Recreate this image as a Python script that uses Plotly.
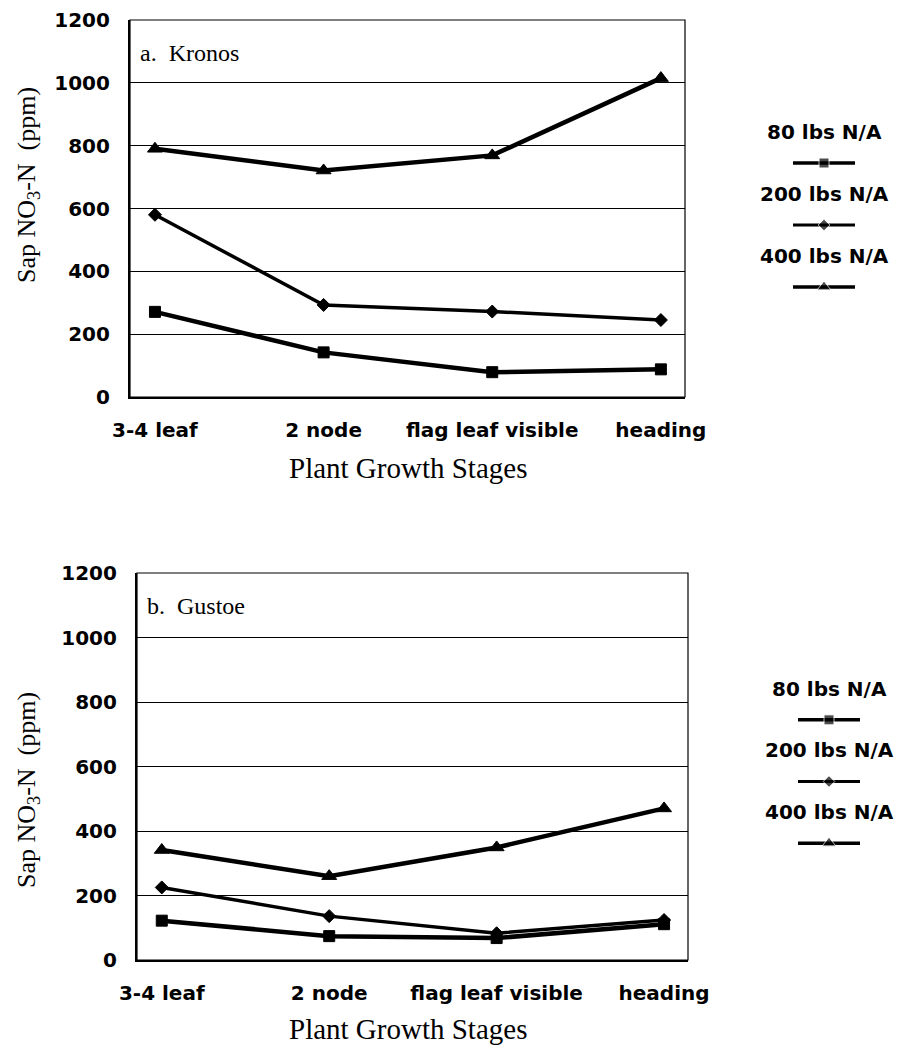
import plotly.graph_objects as go

stages = ["3-4 leaf", "2 node", "flag leaf visible", "heading"]
series_names = ["80 lbs N/A", "200 lbs N/A", "400 lbs N/A"]

kronos_80 = [271, 142, 79, 88]
kronos_200 = [580, 293, 272, 245]
kronos_400 = [790, 721, 769, 1015]

gustoe_80 = [122, 74, 68, 111]
gustoe_200 = [225, 136, 83, 124]
gustoe_400 = [341, 260, 349, 470]

panel_titles = ["a.  Kronos", "b.  Gustoe"]
y_ticks = [0, 200, 400, 600, 800, 1000, 1200]

W, H = 898, 1046
def px(x): return x / W
def py(y): return (H - y) / H

symbols = ["square", "diamond", "triangle-up"]
msizes = [11, 10, 13]
lwidths = [4.5, 3.5, 4.5]

fig = go.Figure()

panels = [
    dict(data=[kronos_80, kronos_200, kronos_400], x=(130, 685), y=(20, 397), xa="x", ya="y",
         leg_x=(793, 855), leg_y=(132, 318), legxa="x3", legya="y3", ytitle_y=185, xtitle_y=468),
    dict(data=[gustoe_80, gustoe_200, gustoe_400], x=(137, 688), y=(573, 960), xa="x2", ya="y2",
         leg_x=(798, 860), leg_y=(689, 874), legxa="x4", legya="y4", ytitle_y=790, xtitle_y=1029),
]

sans = "DejaVu Sans, Arial"
serif = "Liberation Serif, Times New Roman"
tick_font = dict(family=sans, size=20, color="black", weight="bold")

for pi, p in enumerate(panels):
    for si, name in enumerate(series_names):
        fig.add_trace(go.Scatter(
            x=stages, y=p["data"][si], mode="lines+markers", name=name,
            xaxis=p["xa"], yaxis=p["ya"], showlegend=False,
            line=dict(color="black", width=lwidths[si]),
            marker=dict(symbol=symbols[si], size=msizes[si], color="black",
                        line=dict(color="black", width=1)),
        ))
        # legend sample
        fig.add_trace(go.Scatter(
            x=[0, 0.5, 1], y=[name] * 3, mode="lines+markers",
            xaxis=p["legxa"], yaxis=p["legya"], showlegend=False, hoverinfo="skip",
            line=dict(color="black", width=3.5 if si != 1 else 3),
            marker=dict(symbol=symbols[si], size=[0, msizes[si] - 1, 0], color="black"),
        ))
        fig.add_annotation(
            xref=p["legxa"] + " domain", yref=p["legya"], x=0.5, y=name, yshift=31,
            text=name, showarrow=False,
            font=dict(family=sans, size=20, color="black", weight="bold"),
        )

    fig.add_shape(type="rect", xref=p["xa"] + " domain", yref=p["ya"] + " domain",
                  x0=0, x1=1, y0=0, y1=1, line=dict(color="black", width=1.2), layer="above")
    fig.add_annotation(xref="paper", yref="paper",
                       x=px(p["x"][0] + 8), y=py(p["y"][0] + 33), xanchor="left", yanchor="middle",
                       text=panel_titles[pi], showarrow=False,
                       font=dict(family=serif, size=24, color="black"))
    fig.add_annotation(xref="paper", yref="paper",
                       x=px(408), y=py(p["xtitle_y"]), xanchor="center", yanchor="middle",
                       text="Plant Growth Stages", showarrow=False,
                       font=dict(family=serif, size=29, color="black"))
    fig.add_annotation(xref="paper", yref="paper",
                       x=px(28), y=py(p["ytitle_y"]), xanchor="center", yanchor="middle",
                       text="Sap NO<sub>3</sub>-N  (ppm)", showarrow=False, textangle=-90,
                       font=dict(family=serif, size=26, color="black"))

def xaxis_cfg(p):
    return dict(domain=[px(p["x"][0]), px(p["x"][1])], type="category",
                categoryorder="array", categoryarray=stages,
                range=[-0.148, 3.143], showgrid=False, zeroline=False,
                showline=True, linecolor="black", linewidth=2.2,
                ticks="", tickfont=tick_font, automargin=False,
                ticklabelstandoff=14, fixedrange=True)

def yaxis_cfg(p, anchor):
    return dict(domain=[py(p["y"][1]), py(p["y"][0])], range=[0, 1200],
                tickvals=y_ticks, showgrid=True, gridcolor="black", gridwidth=1,
                zeroline=False, showline=True, linecolor="black", linewidth=2.2,
                ticks="", tickfont=tick_font, automargin=False,
                ticklabelstandoff=14, anchor=anchor, fixedrange=True)

def leg_x(p):
    return dict(domain=[px(p["leg_x"][0]), px(p["leg_x"][1])], range=[0, 1],
                visible=False, fixedrange=True, automargin=False)

def leg_y(p, anchor):
    return dict(domain=[py(p["leg_y"][1]), py(p["leg_y"][0])], type="category",
                categoryorder="array", categoryarray=series_names,
                range=[2.5, -0.5], visible=False, anchor=anchor, fixedrange=True,
                automargin=False)

p0, p1 = panels
fig.update_layout(
    width=W, height=H,
    margin=dict(l=0, r=0, t=0, b=0),
    paper_bgcolor="white", plot_bgcolor="white",
    xaxis=dict(**xaxis_cfg(p0), anchor="y"),
    yaxis=yaxis_cfg(p0, "x"),
    xaxis2=dict(**xaxis_cfg(p1), anchor="y2"),
    yaxis2=yaxis_cfg(p1, "x2"),
    xaxis3=dict(**leg_x(p0), anchor="y3"),
    yaxis3=leg_y(p0, "x3"),
    xaxis4=dict(**leg_x(p1), anchor="y4"),
    yaxis4=leg_y(p1, "x4"),
    showlegend=False,
)

fig.write_html("out.html", config={"displayModeBar": False},
               post_script="document.body.style.margin='0';document.body.style.overflow='hidden';")
